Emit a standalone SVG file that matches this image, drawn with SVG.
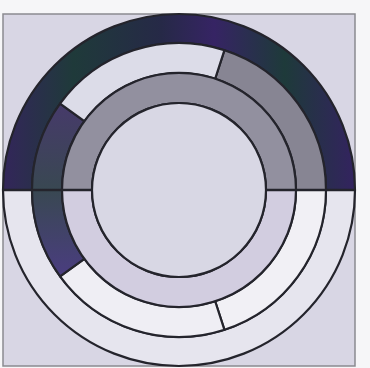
<svg xmlns="http://www.w3.org/2000/svg" width="370" height="368" viewBox="0 0 370 368">
  <style>
    .seg { stroke: #24242c; stroke-width: 2.2; stroke-linejoin: round; }
    .ln { stroke: #24242c; stroke-width: 2.5; fill: none; }
  </style>
  <defs>
    <linearGradient id="darkOuter" x1="0" y1="0" x2="1" y2="0">
      <stop offset="0" stop-color="#33265a"/>
      <stop offset="0.2" stop-color="#1f3a3a"/>
      <stop offset="0.45" stop-color="#262947"/>
      <stop offset="0.6" stop-color="#362464"/>
      <stop offset="0.8" stop-color="#1e3a3a"/>
      <stop offset="1" stop-color="#33235f"/>
    </linearGradient>
    <linearGradient id="darkMid" x1="0" y1="0" x2="0" y2="1">
      <stop offset="0" stop-color="#463a6a"/>
      <stop offset="0.5" stop-color="#394852"/>
      <stop offset="1" stop-color="#4a3d80"/>
    </linearGradient>
  </defs>
  <rect x="0" y="0" width="370" height="368" fill="#f6f6f8"/>
  <rect id="frame" x="3" y="14" width="352" height="352" fill="#d8d6e4" stroke="#8a8a90" stroke-width="1.5"/>

  <g id="outer-top"><path class="seg" fill="url(#darkOuter)" d="M3,190 A176,176 0 0 1 355,190 L326,190 A147,147 0 0 0 32,190 Z"/></g>
  <g id="outer-bottom"><path class="seg" fill="#e6e5ee" d="M3,190 A176,176 0 0 0 355,190 L326,190 A147,147 0 0 1 32,190 Z"/></g>

  <g id="mid-gray"><path class="seg" fill="#878593" d="M224.43,50.19 A147,147 0 0 1 326,190 L296,190 A117,117 0 0 0 215.16,78.73 Z"/></g>
  <g id="mid-white-right"><path class="seg" fill="#f1f0f5" d="M326,190 A147,147 0 0 1 224.43,329.81 L215.16,301.27 A117,117 0 0 0 296,190 Z"/></g>
  <g id="mid-white-bottom"><path class="seg" fill="#efeef4" d="M224.43,329.81 A147,147 0 0 1 60.07,276.41 L84.34,258.77 A117,117 0 0 0 215.16,301.27 Z"/></g>
  <g id="mid-dark"><path class="seg" fill="url(#darkMid)" d="M60.07,276.41 A147,147 0 0 1 60.07,103.59 L84.34,121.23 A117,117 0 0 0 84.34,258.77 Z"/></g>
  <g id="mid-light"><path class="seg" fill="#dcdce8" d="M60.07,103.59 A147,147 0 0 1 224.43,50.19 L215.16,78.73 A117,117 0 0 0 84.34,121.23 Z"/></g>

  <g id="inner-top"><path class="seg" fill="#92909f" d="M62,190 A117,117 0 0 1 296,190 L266,190 A87,87 0 0 0 92,190 Z"/></g>
  <g id="inner-bottom"><path class="seg" fill="#d2cde0" d="M62,190 A117,117 0 0 0 296,190 L266,190 A87,87 0 0 1 92,190 Z"/></g>

  <g id="center"><circle class="seg" cx="179" cy="190" r="87" fill="#d8d7e4"/></g>

  <g id="connectors">
    <line class="ln" x1="3" y1="190" x2="92" y2="190"/>
    <line class="ln" x1="266" y1="190" x2="355" y2="190"/>
  </g>
</svg>
